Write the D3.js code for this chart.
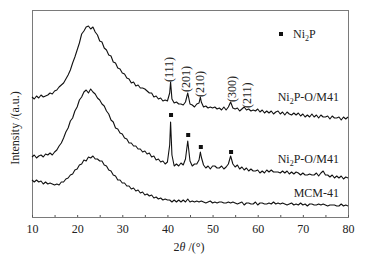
<!DOCTYPE html>
<html><head><meta charset="utf-8">
<script src="https://cdn.jsdelivr.net/npm/d3@7"></script>
<style>body{margin:0;background:#fff}svg{display:block}text{font-family:"Liberation Serif","DejaVu Serif",serif;fill:#222}</style>
</head><body><svg id="c" width="368" height="262"></svg>
<script>
// 2θ grid 10..80 step 0.5 (141 points) + extra points at sharp peaks
const thetaStart = 10, thetaStep = 0.5;
const xTicks = [10, 20, 30, 40, 50, 60, 70, 80];
const seriesNames = ["Ni2P-O/M41 (upper)", "Ni2P-O/M41", "MCM-41"];
const topVals = [120,118,121,119,122,120,121,122,124,123,126,127,130,132,134,138,142,147,154,160,167,174,183,186,190,191,188,190,185,182,176,175,169,167,162,161,155,154,149,148,144,143,139,138,134,135,131,132,129,129,128,126,124,124,120,121,118,119,116,117,116,124,118,114,115,113,113,112,115,124,113,112,110,113,114,115,110,111,109,110,109,110,108,109,107,110,107,110,115,109,108,109,106,108,110,107,108,106,107,106,108,105,107,104,106,104,106,103,105,106,103,105,102,105,103,102,104,102,104,101,103,100,102,100,103,100,102,99,102,100,100,101,98,101,99,99,100,97,100,98,100];
const topPeaks = [[40.7,135],[47.3,120]];
const midVals = [60,62,59,61,62,60,63,62,64,62,65,67,71,74,79,85,89,96,99,106,110,117,120,125,127,124,128,125,123,119,117,113,111,106,103,97,95,89,88,84,83,79,78,74,74,71,71,68,68,65,66,63,64,60,61,57,58,55,56,53,55,72,62,51,53,51,54,52,58,76,56,51,53,53,57,60,52,49,51,48,51,51,49,49,51,48,50,53,61,53,50,52,48,50,47,49,46,48,46,46,47,44,46,44,47,45,47,45,45,45,44,46,44,46,43,45,43,45,44,42,44,42,42,43,42,42,44,41,44,46,42,42,40,42,39,41,39,41,38,40,39];
const midPeaks = [[40.7,95],[47.3,65]];
const botVals = [37,35,37,35,36,33,35,33,34,33,32,33,32,35,35,38,39,42,43,47,48,52,53,57,56,60,59,61,58,58,56,56,52,51,47,46,42,41,37,37,34,34,31,31,28,29,26,27,24,25,22,23,21,22,19,20,18,19,17,18,17,17,15,17,15,17,15,17,15,18,15,16,15,16,15,16,15,14,15,16,14,15,14,15,15,14,14,15,14,15,14,13,14,15,12,14,14,13,13,15,12,14,14,13,13,14,13,15,13,14,13,14,13,12,13,14,12,13,12,14,12,13,11,13,13,12,12,13,12,13,12,11,12,12,12,11,11,13,11,12,11];
const botPeaks = [];
const peakLabels = ["(111)", "(201)", "(210)", "(300)", "(211)"];
const peakLabelTheta = [40.4, 44.1, 47.2, 54.3, 57.6];
const peakLabelBase = [135, 125, 120, 115, 109];
const markerTheta = [40.8, 44.6, 47.4, 54.1];
const markerInt = [102, 82, 70, 65];
const curveLabelInt = [116.5, 54, 20];

function build(vals, peaks){
  const pts = vals.map((v,i)=>[thetaStart + i*thetaStep, v]).concat(peaks);
  return pts.sort((a,b)=>a[0]-b[0]);
}
const series = [build(topVals, topPeaks), build(midVals, midPeaks), build(botVals, botPeaks)];

const svg = d3.select("#c");
const m = {l:32, r:20, t:10, b:45};
const W = 368, H = 262;
const x = d3.scaleLinear().domain([10,80]).range([m.l, W-m.r]);
const y = d3.scaleLinear().domain([0,207]).range([H-m.b, m.t]);

// frame
const frame = "#7a7a7a";
svg.append("rect").attr("x", x(10)).attr("y", y(207)).attr("width", x(80)-x(10)).attr("height", y(0)-y(207))
  .attr("fill","none").attr("stroke",frame).attr("stroke-width",1).attr("shape-rendering","crispEdges");

// x axis ticks (inward)
const xa = d3.axisBottom(x).tickValues(d3.range(10,81,5)).tickSize(-2).tickFormat(d=> xTicks.includes(d)? d : "");
const g = svg.append("g").attr("transform",`translate(0,${y(0)})`).call(xa);
g.select(".domain").remove();
g.selectAll(".tick line").attr("stroke","#555");
g.selectAll(".tick text").attr("dy",null).attr("y",16).attr("font-size","12px").attr("fill","#222")
  .attr("font-family","Liberation Serif");

// curves
const line = d3.line().x(d=>x(d[0])).y(d=>y(d[1]));
series.forEach(s=>{
  svg.append("path").attr("d", line(s)).attr("fill","none").attr("stroke","#111").attr("stroke-width",1.1)
    .attr("stroke-linejoin","round");
});

// peak labels
peakLabels.forEach((t,i)=>{
  svg.append("text").attr("transform",`translate(${x(peakLabelTheta[i])+4},${y(peakLabelBase[i])}) rotate(-90)`)
    .attr("font-size","12px").text(t);
});

// square markers
markerTheta.forEach((t,i)=>{
  svg.append("rect").attr("x", x(t)-2).attr("y", y(markerInt[i])-2).attr("width",4).attr("height",4).attr("fill","#111");
});

// curve labels
const lab = [["Ni","2","P-O/M41"],["Ni","2","P-O/M41"],["MCM-41"]];
lab.forEach((parts,i)=>{
  const t = svg.append("text").attr("x", 339).attr("y", y(curveLabelInt[i])).attr("text-anchor","end").attr("font-size","12px");
  if(parts.length===3){
    t.append("tspan").text(parts[0]);
    t.append("tspan").attr("font-size","8px").attr("dy",3).text(parts[1]);
    t.append("tspan").attr("dy",-3).text(parts[2]);
  } else t.text(parts[0]);
});

// legend
svg.append("rect").attr("x",279).attr("y",32).attr("width",4).attr("height",4).attr("fill","#111");
const lt = svg.append("text").attr("x",293).attr("y",38).attr("font-size","12px");
lt.append("tspan").text("Ni");
lt.append("tspan").attr("font-size","8px").attr("dy",3).text("2");
lt.append("tspan").attr("dy",-3).text("P");

// axis titles
const xt = svg.append("text").attr("x",189).attr("y",251).attr("text-anchor","middle").attr("font-size","12px");
xt.append("tspan").text("2");
xt.append("tspan").attr("font-style","italic").text("θ");
xt.append("tspan").text(" /(°)");
svg.append("text").attr("transform",`translate(19,128) rotate(-90)`).attr("text-anchor","middle").attr("font-size","12px")
  .text("Intensity /(a.u.)");
</script></body></html>
